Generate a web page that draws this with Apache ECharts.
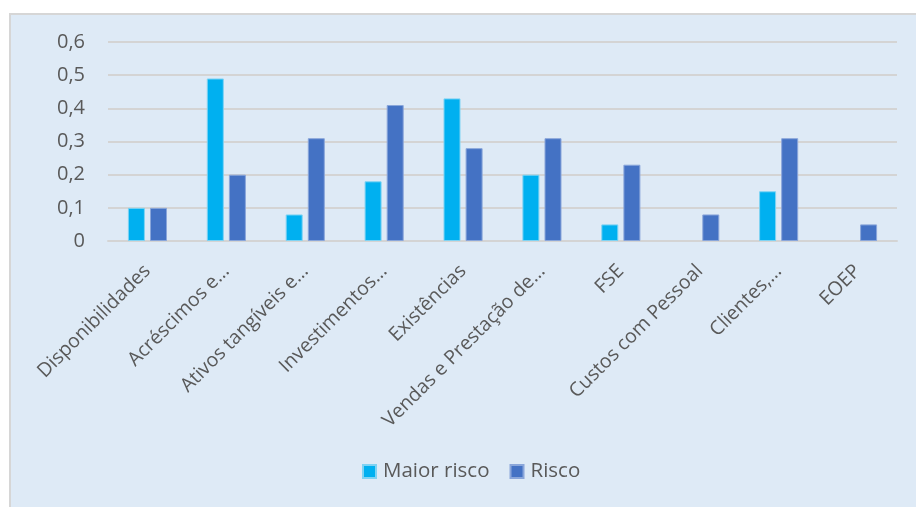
<!DOCTYPE html>
<html><head><meta charset="utf-8">
<script src="https://cdn.jsdelivr.net/npm/echarts@6/dist/echarts.min.js"></script>
<style>html,body{margin:0;padding:0;background:#fff;}#c{width:916px;height:507px;}</style>
</head><body><div id="c"></div>
<script>
const categories = ["Disponibilidades","Acréscimos e…","Ativos tangíveis e…","Investimentos…","Existências","Vendas e Prestação de…","FSE","Custos com Pessoal","Clientes,…","EOEP"];
const maiorRisco = [0.10,0.49,0.08,0.18,0.43,0.20,0.05,null,0.15,null];
const risco = [0.10,0.20,0.31,0.41,0.28,0.31,0.23,0.08,0.31,0.05];
const yTicks = ["0","0,1","0,2","0,3","0,4","0,5","0,6"];

const chart = echarts.init(document.getElementById('c'), null, {renderer:'canvas'});
const font = '"Open Sans", sans-serif';
chart.setOption({
  animation:false,
  backgroundColor:'#ffffff',
  graphic:[{type:'rect',left:9,top:13,z:-10,shape:{width:920,height:500},style:{fill:'#DEEAF6',stroke:'#D6D6D6',lineWidth:2}}],
  grid:{left:108,right:19,top:42,bottom:266,containLabel:false},
  legend:{bottom:20,left:357,itemWidth:13,itemHeight:13,itemGap:20,icon:'rect',
    textStyle:{color:'#595959',fontSize:20.5,fontFamily:font,padding:[0,0,0,2]},data:['Maior risco','Risco']},
  xAxis:{type:'category',data:categories,
    axisLine:{show:true,lineStyle:{color:'#D4D4D4',width:2}},axisTick:{show:false},
    axisLabel:{rotate:45,color:'#595959',fontSize:19.5,fontFamily:font,margin:27,interval:0}},
  yAxis:{type:'value',min:0,max:0.6,interval:0.1,
    axisLine:{show:false},axisTick:{show:false},
    splitLine:{lineStyle:{color:'#D4D4D4',width:2}},
    axisLabel:{color:'#595959',fontSize:20,fontFamily:font,margin:23,
      formatter:(v)=>yTicks[Math.round(v*10)]}},
  series:[
    {name:'Maior risco',type:'bar',data:maiorRisco,barWidth:17,barGap:'30%',
      itemStyle:{color:'#00B0F0',borderColor:'#7FD3F3',borderWidth:1}},
    {name:'Risco',type:'bar',data:risco,barWidth:17,
      itemStyle:{color:'#4472C4',borderColor:'#8AA6DA',borderWidth:1}}
  ]
});
</script></body></html>
